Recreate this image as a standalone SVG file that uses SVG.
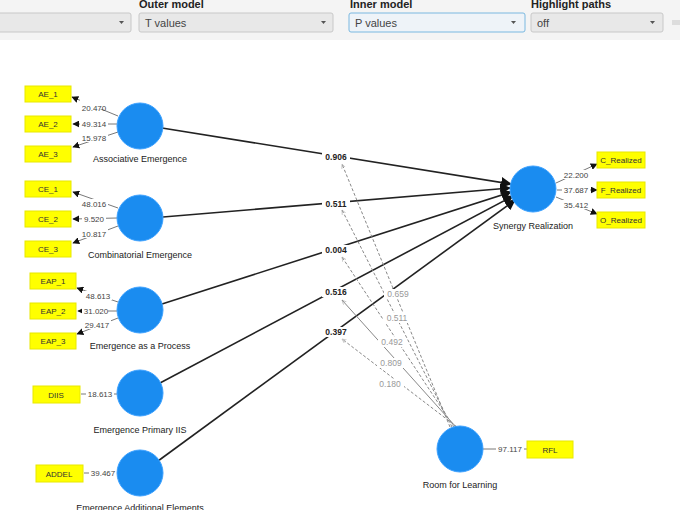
<svg xmlns="http://www.w3.org/2000/svg" width="680" height="510" viewBox="0 0 680 510">
<defs>
<style>
text{font-family:"Liberation Sans",Arial,sans-serif}
.hdr{font-size:11px;font-weight:bold;fill:#222}
.sel{fill:#e8e8e8;stroke:#c8c8c8;stroke-width:1}
.selt{font-size:11px;fill:#444}
.lv{fill:#1a8cf0;stroke:#3aa0ff;stroke-width:1}
.lbl{font-size:9px;fill:#222;text-anchor:middle}
.ind{fill:#ffff00;stroke:#e8e800}
.indt{font-size:8px;fill:#333;text-anchor:middle}
.w{font-size:8px;fill:#444;text-anchor:middle}
.p{font-size:8.5px;font-weight:bold;fill:#222;text-anchor:middle}
.g{font-size:8.5px;fill:#999;text-anchor:middle}
.ln{stroke:#222;stroke-width:1.6;fill:none}
.thin{stroke:#555;stroke-width:0.8;fill:none}
.mod{stroke:#888;stroke-width:1;stroke-dasharray:3,2;fill:none}
.modS{stroke:#888;stroke-width:1;fill:none}
</style>
<marker id="ah" viewBox="0 0 10 10" refX="9" refY="5" markerWidth="7" markerHeight="7" orient="auto" markerUnits="userSpaceOnUse"><path d="M0,0L10,5L0,10z" fill="#111"/></marker>
<marker id="ahL" viewBox="0 0 10 10" refX="9" refY="5" markerWidth="11" markerHeight="11" orient="auto" markerUnits="userSpaceOnUse"><path d="M0,0L10,5L0,10z" fill="#111"/></marker>
<marker id="ahG" viewBox="0 0 10 10" refX="9" refY="5" markerWidth="5" markerHeight="5" orient="auto" markerUnits="userSpaceOnUse"><path d="M0,1L9,5L0,9" fill="none" stroke="#999"/></marker>
</defs>
<rect width="680" height="510" fill="#fff"/>
<g id="toolbar">
<rect x="0" y="0" width="680" height="40" fill="#f4f4f4"/>
<text class="hdr" x="139" y="8">Outer model</text>
<text class="hdr" x="350" y="8">Inner model</text>
<text class="hdr" x="531" y="8">Highlight paths</text>
<rect class="sel" x="-5" y="13" width="136" height="19" rx="2"/>
<path d="M119,21h5l-2.5,3z" fill="#555"/>
<rect class="sel" x="139" y="13" width="194" height="19" rx="2"/>
<text class="selt" x="145" y="27">T values</text>
<path d="M321,21h5l-2.5,3z" fill="#555"/>
<rect x="349" y="13" width="176" height="19" rx="2" fill="#eef3f8" stroke="#7ab8e0"/>
<text class="selt" x="355" y="27">P values</text>
<path d="M511,21h5l-2.5,3z" fill="#555"/>
<rect class="sel" x="531" y="13" width="132" height="19" rx="2"/>
<text class="selt" x="537" y="27">off</text>
<path d="M650,21h5l-2.5,3z" fill="#555"/>
<rect x="672" y="20" width="10" height="5" fill="#ddd"/>
</g>
<g id="connectors">
<line class="thin" x1="118" y1="116" x2="72" y2="97" marker-end="url(#ah)"/>
<line class="thin" x1="117" y1="124" x2="73" y2="124" marker-end="url(#ah)"/>
<line class="thin" x1="118" y1="132" x2="73" y2="147" marker-end="url(#ah)"/>
<line class="thin" x1="118" y1="208" x2="73" y2="192" marker-end="url(#ah)"/>
<line class="thin" x1="117" y1="218" x2="73" y2="219" marker-end="url(#ah)"/>
<line class="thin" x1="118" y1="226" x2="73" y2="243" marker-end="url(#ah)"/>
<line class="thin" x1="118" y1="302" x2="77" y2="288" marker-end="url(#ah)"/>
<line class="thin" x1="117" y1="311" x2="78" y2="311" marker-end="url(#ah)"/>
<line class="thin" x1="118" y1="318" x2="77" y2="334" marker-end="url(#ah)"/>
<line class="thin" x1="117" y1="394" x2="81" y2="394"/>
<line class="thin" x1="117" y1="473" x2="84" y2="473"/>
<line class="thin" x1="556" y1="183" x2="597" y2="164" marker-end="url(#ah)"/>
<line class="thin" x1="557" y1="190" x2="597" y2="190" marker-end="url(#ah)"/>
<line class="thin" x1="556" y1="197" x2="597" y2="214" marker-end="url(#ah)"/>
<line class="thin" x1="483" y1="449" x2="527" y2="449"/>
<line class="ln" x1="162" y1="128" x2="511" y2="184" marker-end="url(#ahL)"/>
<line class="ln" x1="163" y1="217" x2="510" y2="188" marker-end="url(#ahL)"/>
<line class="ln" x1="162" y1="304" x2="511" y2="192" marker-end="url(#ahL)"/>
<line class="ln" x1="160" y1="383" x2="513" y2="196" marker-end="url(#ahL)"/>
<line class="ln" x1="158" y1="461" x2="515" y2="200" marker-end="url(#ahL)"/>
<line class="mod" x1="450" y1="427" x2="342" y2="164" marker-end="url(#ahG)"/>
<line class="mod" x1="452" y1="427" x2="342" y2="210" marker-end="url(#ahG)"/>
<line class="mod" x1="454" y1="427" x2="342" y2="257" marker-end="url(#ahG)"/>
<line class="modS" x1="456" y1="427" x2="342" y2="300" marker-end="url(#ahG)"/>
<line class="mod" x1="457" y1="427" x2="342" y2="339" marker-end="url(#ahG)"/>
</g>
<g id="weights">
<g fill="#fff">
<rect x="80" y="100" width="28" height="9"/><rect x="80" y="119" width="28" height="10"/><rect x="80" y="133" width="28" height="9"/>
<rect x="80" y="199" width="28" height="9"/><rect x="82" y="214" width="24" height="10"/><rect x="80" y="229" width="28" height="9"/>
<rect x="84" y="291" width="28" height="9"/><rect x="82" y="306" width="26" height="10"/><rect x="83" y="320" width="28" height="9"/>
<rect x="86" y="389" width="28" height="10"/><rect x="89" y="468" width="28" height="10"/>
<rect x="562" y="170" width="28" height="9"/><rect x="562" y="185" width="28" height="10"/><rect x="562" y="200" width="28" height="9"/>
<rect x="496" y="444" width="28" height="10"/>
<rect x="322" y="152" width="28" height="10"/><rect x="322" y="199" width="28" height="10"/><rect x="322" y="245" width="28" height="10"/><rect x="322" y="287" width="28" height="10"/><rect x="322" y="327" width="28" height="10"/>
<rect x="384" y="289" width="28" height="10"/><rect x="383" y="313" width="28" height="10"/><rect x="378" y="337" width="28" height="10"/><rect x="377" y="358" width="28" height="10"/><rect x="376" y="379" width="28" height="10"/>
</g>
<text class="w" x="94" y="111">20.470</text>
<text class="w" x="94" y="127">49.314</text>
<text class="w" x="94" y="141">15.978</text>
<text class="w" x="94" y="207">48.016</text>
<text class="w" x="94" y="222">9.520</text>
<text class="w" x="94" y="237">10.817</text>
<text class="w" x="98" y="299">48.613</text>
<text class="w" x="96" y="314">31.020</text>
<text class="w" x="97" y="328">29.417</text>
<text class="w" x="100" y="397">18.613</text>
<text class="w" x="103" y="476">39.467</text>
<text class="w" x="576" y="178">22.200</text>
<text class="w" x="576" y="193">37.687</text>
<text class="w" x="576" y="208">35.412</text>
<text class="w" x="510" y="452">97.117</text>
<text class="p" x="336" y="160">0.906</text>
<text class="p" x="336" y="207">0.511</text>
<text class="p" x="336" y="253">0.004</text>
<text class="p" x="336" y="295">0.516</text>
<text class="p" x="336" y="335">0.397</text>
<text class="g" x="398" y="297">0.659</text>
<text class="g" x="397" y="321">0.511</text>
<text class="g" x="392" y="345">0.492</text>
<text class="g" x="391" y="366">0.809</text>
<text class="g" x="390" y="387">0.180</text>
</g>
<g id="AE"><circle class="lv" cx="140" cy="126" r="23"/><text class="lbl" x="140" y="162">Associative Emergence</text></g>
<g id="CE"><circle class="lv" cx="140" cy="218" r="23"/><text class="lbl" x="140" y="258">Combinatorial Emergence</text></g>
<g id="EAP"><circle class="lv" cx="140" cy="310" r="23"/><text class="lbl" x="140" y="349">Emergence as a Process</text></g>
<g id="EPIIS"><circle class="lv" cx="140" cy="393" r="23"/><text class="lbl" x="140" y="433">Emergence Primary IIS</text></g>
<g id="EAE"><circle class="lv" cx="140" cy="473" r="23"/><text class="lbl" x="140" y="511">Emergence Additional Elements</text></g>
<g id="SR"><circle class="lv" cx="533" cy="189" r="23"/><text class="lbl" x="533" y="229">Synergy Realization</text></g>
<g id="RFL"><circle class="lv" cx="460" cy="449" r="23"/><text class="lbl" x="460" y="488">Room for Learning</text></g>
<g id="indicators">
<rect class="ind" x="25" y="86" width="46" height="16"/><text class="indt" x="48" y="97">AE_1</text>
<rect class="ind" x="25" y="116" width="46" height="16"/><text class="indt" x="48" y="127">AE_2</text>
<rect class="ind" x="25" y="146" width="46" height="16"/><text class="indt" x="48" y="157">AE_3</text>
<rect class="ind" x="25" y="181" width="46" height="16"/><text class="indt" x="48" y="192">CE_1</text>
<rect class="ind" x="25" y="211" width="46" height="16"/><text class="indt" x="48" y="222">CE_2</text>
<rect class="ind" x="25" y="241" width="46" height="16"/><text class="indt" x="48" y="252">CE_3</text>
<rect class="ind" x="30" y="273" width="46" height="16"/><text class="indt" x="53" y="284">EAP_1</text>
<rect class="ind" x="30" y="303" width="46" height="16"/><text class="indt" x="53" y="314">EAP_2</text>
<rect class="ind" x="30" y="333" width="46" height="16"/><text class="indt" x="53" y="344">EAP_3</text>
<rect class="ind" x="33" y="386" width="47" height="17"/><text class="indt" x="56" y="398">DIIS</text>
<rect class="ind" x="36" y="465" width="47" height="17"/><text class="indt" x="59" y="477">ADDEL</text>
<rect class="ind" x="597" y="152" width="48" height="16"/><text class="indt" x="621" y="163">C_Realized</text>
<rect class="ind" x="597" y="182" width="48" height="16"/><text class="indt" x="621" y="193">F_Realized</text>
<rect class="ind" x="597" y="212" width="48" height="16"/><text class="indt" x="621" y="223">O_Realized</text>
<rect class="ind" x="527" y="441" width="46" height="17"/><text class="indt" x="550" y="453">RFL</text>
</g>
</svg>
